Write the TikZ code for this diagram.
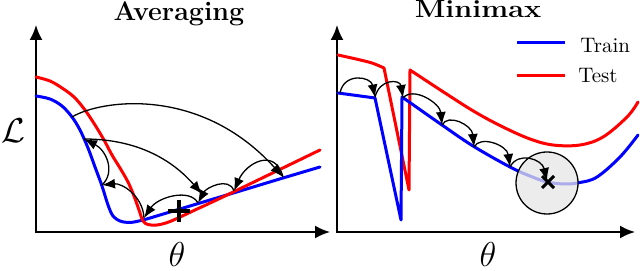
\documentclass[tikz,border=0pt]{standalone}
\usepackage{fontspec}
\usetikzlibrary{arrows.meta}
\begin{document}
\begin{tikzpicture}[x=0.5pt,y=-0.5pt,
  axis/.style={line width=1pt,{Latex[length=7.5pt,width=6.5pt]}-{Latex[length=7.5pt,width=6.5pt]}},
  curve/.style={line width=1.5pt,line join=round,line cap=round},
  hop/.style={line width=0.65pt,-{Latex[length=6.5pt,width=5pt]}},
  legtext/.style={font=\fontsize{10.5}{12}\selectfont,anchor=base west,inner sep=0pt}]
\useasboundingbox (0,0) rectangle (640,271);

% ---------- left panel ----------
\coordinate (LY) at (36,25);
\coordinate (LO) at (36,232);
\coordinate (LX) at (330,232);
\draw[axis] (LY) -- (LO) -- (LX);

\draw[curve,blue] plot[smooth,tension=0.55] coordinates {(36,96) (50,99) (62,106) (72,117) (80,130) (88,148) (95,167) (102,186) (108,205) (113,216) (120,221) (130,222.5) (143,220) (160,215) (200,203) (240,191) (283,178) (320,167)};
\draw[curve,red] plot[smooth,tension=0.55] coordinates {(36,77) (50,81) (62,88) (74,97) (85,110) (95,125) (104,140) (112,155) (120,168) (128,182) (134,196) (139,210) (143,221) (148,224.5) (157,225) (170,221.5) (195,210) (227,195) (320,150)};

\coordinate (p0) at (72,117);
\coordinate (p1) at (283,177);
\coordinate (p2) at (234,191);
\coordinate (p3) at (198,203);
\coordinate (p4) at (144,218);
\coordinate (p5) at (102,185);
\coordinate (p6) at (84,139);
\coordinate (p7) at (202,194);
\draw[hop] (p0) .. controls +(28,-17) and +(-83,-92) .. (p1);
\draw[hop] (p1) .. controls +(-8,-30) and +(12,-28) .. (p2);
\draw[hop] (p2) .. controls +(-5,-15) and +(8,-15) .. (p3);
\draw[hop] (p3) .. controls +(-8,-15) and +(14,-21) .. (p4);
\draw[hop] (p4) .. controls +(-1,-22) and +(20,-2) .. (p5);
\draw[hop] (p5) .. controls +(14,-13) and +(22,11) .. (p6);
\draw[hop] (p6) .. controls +(45,0) and +(-35,-40) .. (p7);

\coordinate (avg) at (179,211);
\draw[line width=2pt] (avg) +(-11,0) -- +(11,0) (avg) +(0,-11) -- +(0,11);

\node[font=\fontsize{13.4}{16}\selectfont\bfseries,anchor=base,inner sep=0pt] (t1) at (179,21) {Averaging};
\node[font=\fontsize{17}{20}\selectfont,inner sep=0pt] (ly) at (13,131) {$\mathcal{L}$};
\node[font=\fontsize{18}{21}\selectfont,inner sep=0pt] (lx1) at (177,255) {$\theta$};

% ---------- right panel ----------
\coordinate (RY) at (337,25);
\coordinate (RO) at (337,232);
\coordinate (RX) at (635,232);
\draw[axis] (RY) -- (RO) -- (RX);

\draw[curve,red] plot[smooth] coordinates {(338,55) (356,59) (372,63) (384,68)} -- (409,190) -- (410,70) -- plot[smooth,tension=0.6] coordinates {(410,70) (445,93) (475,112) (503,127) (530,139) (553,145) (580,145) (603,137) (627,117) (638,102)};
\draw[curve,blue] (338,93) -- (375,98) -- (401,220) -- (402,97) -- plot[smooth,tension=0.6] coordinates {(402,97) (412,104) (442,125) (473,146) (510,167) (530,176) (547,182) (565,184) (580,182.5) (597,177) (620,157) (638,135)};

\node[circle,draw,line width=0.65pt,fill=black!10,fill opacity=0.75,minimum size=31pt,inner sep=0pt] (ball) at (547,183) {};

\coordinate (q0) at (340,93);
\coordinate (q1) at (375,97.5);
\coordinate (q2) at (403,98);
\coordinate (q3) at (442,125);
\coordinate (q4) at (474,147);
\coordinate (q5) at (510,167);
\coordinate (q6) at (547,181);
\draw[hop] (q0) .. controls +(4,-21) and +(-4,-21) .. (q1);
\draw[hop] (q1) .. controls +(4,-19) and +(-3,-19) .. (q2);
\draw[hop] (q2) .. controls +(10,-12) and +(-2,-22) .. (q3);
\draw[hop] (q3) .. controls +(6,-12) and +(-2,-22) .. (q4);
\draw[hop] (q4) .. controls +(6,-12) and +(-3,-22) .. (q5);
\draw[hop] (q5) .. controls +(8,-16) and +(-5,-22) .. (q6);

\coordinate (xm) at (548,182);
\draw[line width=1.5pt] (xm) +(-6,-6) -- +(6,6) (xm) +(-6,6) -- +(6,-6);

\node[font=\fontsize{12.4}{15}\selectfont\bfseries,anchor=base,inner sep=0pt] (t2) at (478,18) {\scalebox{1.16}[1]{Minimax}};
\node[font=\fontsize{16}{19}\selectfont,inner sep=0pt] (lx2) at (488,255) {$\theta$};

% legend
\coordinate (lb1) at (517,43);
\coordinate (lb2) at (565,43);
\coordinate (lr1) at (517,76);
\coordinate (lr2) at (565,76);
\draw[curve,blue,line cap=butt] (lb1) -- (lb2);
\draw[curve,red,line cap=butt] (lr1) -- (lr2);
\node[legtext] (ltrain) at (580,53) {Train};
\node[legtext] (ltest) at (578,83) {Test};
\end{tikzpicture}
\end{document}
